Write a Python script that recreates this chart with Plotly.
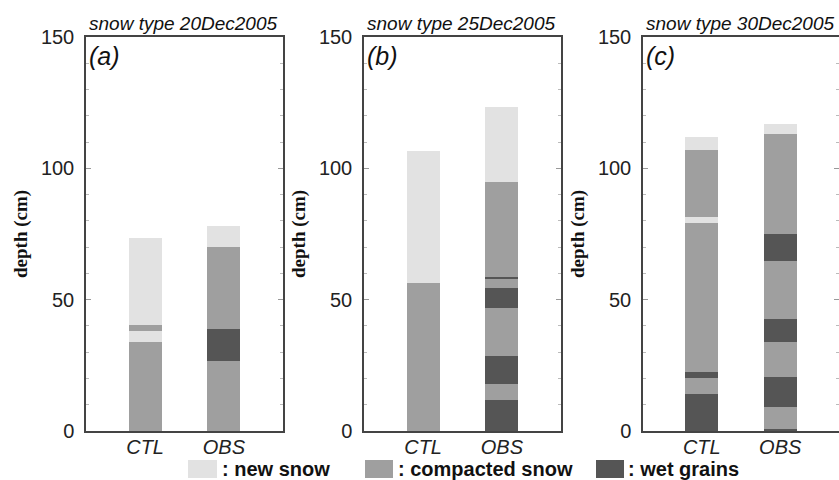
import plotly.graph_objects as go

# ---------------- data ----------------
panel_titles = ["snow type 20Dec2005", "snow type 25Dec2005", "snow type 30Dec2005"]
panel_tags = ["(a)", "(b)", "(c)"]
bar_labels = ["CTL", "OBS"]
type_names = {"N": "new snow", "C": "compacted snow", "W": "wet grains"}

# layer tops (cm, bottom-up) and layer types for each bar
a_ctl_tops = [34.0, 38.0, 40.3, 73.3]
a_ctl_types = ["C", "N", "C", "N"]
a_obs_tops = [26.8, 38.7, 70.0, 78.0]
a_obs_types = ["C", "W", "C", "N"]

b_ctl_tops = [56.5, 106.5]
b_ctl_types = ["C", "N"]
b_obs_tops = [11.7, 17.8, 28.7, 46.8, 54.6, 57.8, 58.7, 94.9, 123.2]
b_obs_types = ["W", "C", "W", "C", "W", "C", "W", "C", "N"]

c_ctl_tops = [14.0, 20.1, 22.6, 79.2, 81.5, 106.8, 112.0]
c_ctl_types = ["W", "C", "W", "C", "N", "C", "N"]
c_obs_tops = [0.8, 9.0, 20.7, 33.8, 42.7, 64.9, 74.9, 112.9, 116.9]
c_obs_types = ["W", "C", "W", "C", "W", "C", "W", "C", "N"]

y_range = [0, 150]

# ---------------- style ----------------
colors = {"N": "#e2e2e2", "C": "#9f9f9f", "W": "#555555"}
W, H = 839, 480
SANS = "Liberation Sans, Arial, sans-serif"
SERIF = "Liberation Serif, Times New Roman, serif"

def px_x(p):
    return p / W

def px_y(p):
    return 1 - p / H

panels = [
    [(a_ctl_tops, a_ctl_types), (a_obs_tops, a_obs_types)],
    [(b_ctl_tops, b_ctl_types), (b_obs_tops, b_obs_types)],
    [(c_ctl_tops, c_ctl_types), (c_obs_tops, c_obs_types)],
]
x_domains_px = [(86, 283), (364, 561), (643, 839)]
y_dom = [px_y(431), px_y(37)]

fig = go.Figure()

for i, bars in enumerate(panels):
    ax = "" if i == 0 else str(i + 1)
    for t in ["N", "C", "W"]:
        xs, hs, bs = [], [], []
        for j, (tops, types) in enumerate(bars):
            bottom = 0.0
            for top, ty in zip(tops, types):
                if ty == t:
                    xs.append(j)
                    hs.append(top - bottom)
                    bs.append(bottom)
                bottom = top
        fig.add_trace(go.Bar(
            x=xs, y=hs, base=bs, width=0.42,
            marker=dict(color=colors[t], line=dict(width=0)),
            name=type_names[t], showlegend=False,
            xaxis="x" + ax, yaxis="y" + ax, hoverinfo="skip",
        ))
    d0, d1 = x_domains_px[i]
    fig.update_layout(**{
        "xaxis" + ax: dict(
            domain=[px_x(d0), px_x(d1)], range=[-0.75, 1.75],
            tickvals=[0, 1], ticktext=bar_labels, ticks="",
            showline=True, mirror=True, linecolor="#444", linewidth=1.5,
            showgrid=False, zeroline=False, fixedrange=True, automargin=False,
            ticklabelstandoff=-3,
            tickfont=dict(family=SANS, size=20, style="italic", color="#222"),
            anchor="y" + ax,
        ),
        "yaxis" + ax: dict(
            domain=y_dom, range=y_range, dtick=50, tick0=0,
            ticks="inside", ticklen=5, tickcolor="#999", tickwidth=1,
            minor=dict(dtick=10, ticks="inside", ticklen=3, tickcolor="#bbb", showgrid=False),
            showline=True, mirror="ticks", linecolor="#444", linewidth=1.5,
            showgrid=False, zeroline=False, fixedrange=True, automargin=False,
            ticklabelstandoff=6,
            tickfont=dict(family=SANS, size=20, color="#222"),
            anchor="x" + ax,
        ),
    })
    # panel title, tag, y-axis title
    fig.add_annotation(text=panel_titles[i], xref="paper", yref="paper",
                       x=px_x(d0 + 1), y=px_y(23), xanchor="left", yanchor="middle",
                       showarrow=False,
                       font=dict(family=SANS, size=19, style="italic", color="#111"))
    fig.add_annotation(text=panel_tags[i], xref="paper", yref="paper",
                       x=px_x(d0 + 1), y=px_y(56), xanchor="left", yanchor="middle",
                       showarrow=False,
                       font=dict(family=SANS, size=25, style="italic", color="#111"))
    fig.add_annotation(text="depth (cm)", xref="paper", yref="paper",
                       x=px_x(d0 - 65), y=px_y(234), xanchor="center", yanchor="middle",
                       textangle=-90, showarrow=False,
                       font=dict(family=SERIF, size=19, weight="bold", color="#111"))

# legend (drawn manually below the panels)
legend_items = [("N", 188, 217, 220), ("C", 365, 393, 396), ("W", 596, 624, 626)]
for t, s0, s1, tx in legend_items:
    fig.add_shape(type="rect", xref="paper", yref="paper",
                  x0=px_x(s0), x1=px_x(s1), y0=px_y(478), y1=px_y(460),
                  fillcolor=colors[t], line=dict(width=0))
    fig.add_annotation(text=": " + type_names[t], xref="paper", yref="paper",
                       x=px_x(tx), y=px_y(469), xanchor="left", yanchor="middle",
                       showarrow=False,
                       font=dict(family=SANS, size=20, weight="bold", color="#111"))

fig.update_layout(
    width=W, height=H, margin=dict(l=0, r=0, t=0, b=0, autoexpand=False),
    barmode="overlay", bargap=0,
    paper_bgcolor="white", plot_bgcolor="white",
    showlegend=False,
)

fig.write_html("out.html")
